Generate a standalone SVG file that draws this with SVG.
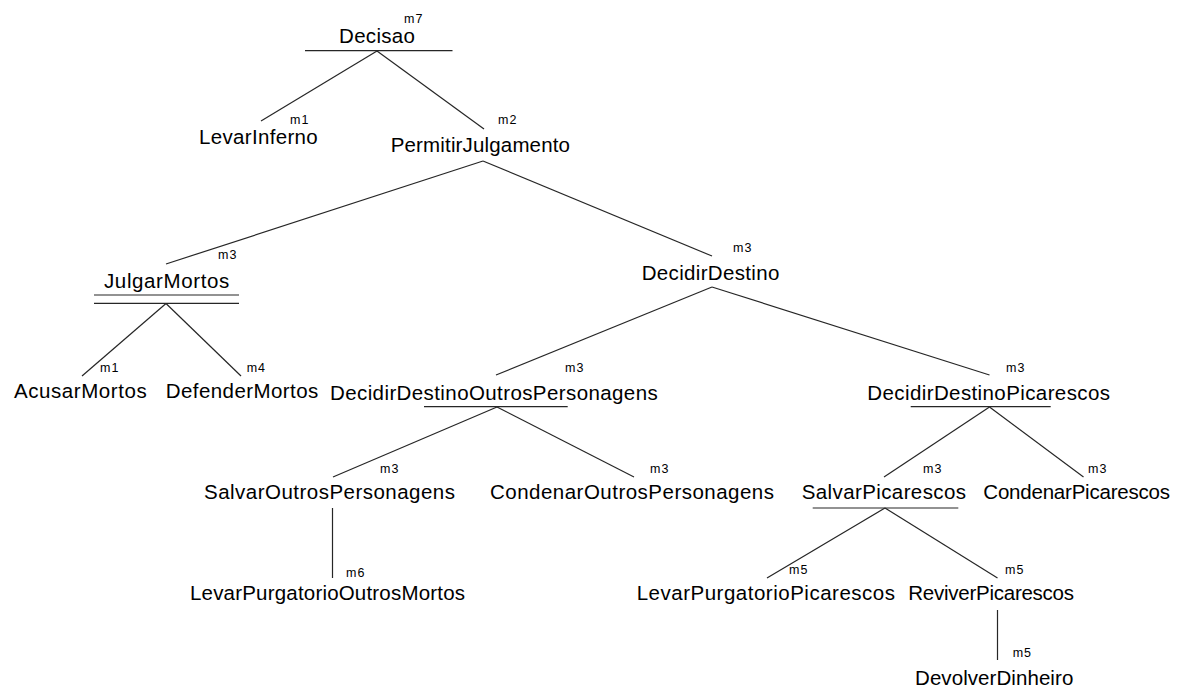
<svg xmlns="http://www.w3.org/2000/svg" width="1191" height="689" viewBox="0 0 1191 689">
  <style>
    .bg { fill: #ffffff; }
    .name { font-family: "Liberation Sans", Arial, sans-serif; font-size: 20.5px; fill: #000000; }
    .tag { font-family: "Liberation Sans", Arial, sans-serif; font-size: 12.5px; letter-spacing: 1px; fill: #000000; }
    .edge { stroke: #262626; stroke-width: 1.2; fill: none; }
    .rule { stroke: #262626; stroke-width: 1.2; fill: none; }
  </style>
  <rect class="bg" x="0" y="0" width="1191" height="689"/>

  <!-- tree edges -->
  <g id="connectors">
    <line class="edge" x1="377" y1="51" x2="261" y2="121"/>
    <line class="edge" x1="377" y1="51" x2="484" y2="129"/>
    <line class="edge" x1="483" y1="161" x2="166" y2="264"/>
    <line class="edge" x1="483" y1="161" x2="712" y2="256"/>
    <line class="edge" x1="166" y1="303.5" x2="82" y2="376"/>
    <line class="edge" x1="166" y1="303.5" x2="241" y2="376"/>
    <line class="edge" x1="712" y1="287" x2="496" y2="375"/>
    <line class="edge" x1="712" y1="287" x2="989.5" y2="375"/>
    <line class="edge" x1="497" y1="407" x2="333" y2="477"/>
    <line class="edge" x1="497" y1="407" x2="634" y2="477"/>
    <line class="edge" x1="332.5" y1="508" x2="332.5" y2="578"/>
    <line class="edge" x1="989.5" y1="407" x2="884" y2="477"/>
    <line class="edge" x1="989.5" y1="407" x2="1083.5" y2="477"/>
    <line class="edge" x1="885" y1="508" x2="767" y2="578"/>
    <line class="edge" x1="885" y1="508" x2="997.5" y2="578"/>
    <line class="edge" x1="997.5" y1="610" x2="997.5" y2="660"/>
  </g>

  <g id="n-decisao">
    <text class="name" x="339" y="42.5" textLength="76" lengthAdjust="spacing">Decisao</text>
    <text class="tag" x="404" y="22.5">m7</text>
    <line class="rule" x1="305" y1="50.7" x2="452.5" y2="50.7"/>
  </g>

  <g id="n-levarinferno">
    <text class="name" x="199" y="144" textLength="118.7" lengthAdjust="spacing">LevarInferno</text>
    <text class="tag" x="290" y="123.5">m1</text>
  </g>

  <g id="n-permitirjulgamento">
    <text class="name" x="390.7" y="151.7" textLength="179.3" lengthAdjust="spacing">PermitirJulgamento</text>
    <text class="tag" x="498" y="124">m2</text>
  </g>

  <g id="n-julgarmortos">
    <text class="name" x="104" y="288.3" textLength="125.3" lengthAdjust="spacing">JulgarMortos</text>
    <text class="tag" x="218" y="259">m3</text>
    <line class="rule" x1="94" y1="295" x2="239" y2="295"/>
    <line class="rule" x1="94" y1="303.3" x2="239" y2="303.3"/>
  </g>

  <g id="n-decidirdestino">
    <text class="name" x="641.7" y="280" textLength="137.6" lengthAdjust="spacing">DecidirDestino</text>
    <text class="tag" x="733" y="251.5">m3</text>
  </g>

  <g id="n-acusarmortos">
    <text class="name" x="14" y="398.3" textLength="132.7" lengthAdjust="spacing">AcusarMortos</text>
    <text class="tag" x="100" y="372">m1</text>
  </g>

  <g id="n-defendermortos">
    <text class="name" x="165.7" y="398.3" textLength="152.6" lengthAdjust="spacing">DefenderMortos</text>
    <text class="tag" x="246.7" y="372">m4</text>
  </g>

  <g id="n-decidirdestinooutrospersonagens">
    <text class="name" x="330" y="400" textLength="327.7" lengthAdjust="spacing">DecidirDestinoOutrosPersonagens</text>
    <text class="tag" x="565" y="372">m3</text>
    <line class="rule" x1="424" y1="406.7" x2="567.7" y2="406.7"/>
  </g>

  <g id="n-decidirdestinopicarescos">
    <text class="name" x="867.3" y="400" textLength="242.7" lengthAdjust="spacing">DecidirDestinoPicarescos</text>
    <text class="tag" x="1006" y="372">m3</text>
    <line class="rule" x1="910.7" y1="406.7" x2="1050.7" y2="406.7"/>
  </g>

  <g id="n-salvaroutrospersonagens">
    <text class="name" x="204" y="499" textLength="251" lengthAdjust="spacing">SalvarOutrosPersonagens</text>
    <text class="tag" x="380" y="473">m3</text>
  </g>

  <g id="n-condenaroutrospersonagens">
    <text class="name" x="490" y="499" textLength="284" lengthAdjust="spacing">CondenarOutrosPersonagens</text>
    <text class="tag" x="650" y="473">m3</text>
  </g>

  <g id="n-salvarpicarescos">
    <text class="name" x="801.7" y="499" textLength="164.3" lengthAdjust="spacing">SalvarPicarescos</text>
    <text class="tag" x="923" y="473">m3</text>
    <line class="rule" x1="812.7" y1="508" x2="958.3" y2="508"/>
  </g>

  <g id="n-condenarpicarescos">
    <text class="name" x="983.3" y="499" textLength="186.7" lengthAdjust="spacing">CondenarPicarescos</text>
    <text class="tag" x="1088" y="473">m3</text>
  </g>

  <g id="n-levarpurgatoriooutrosmortos">
    <text class="name" x="190" y="600" textLength="275" lengthAdjust="spacing">LevarPurgatorioOutrosMortos</text>
    <text class="tag" x="346" y="577">m6</text>
  </g>

  <g id="n-levarpurgatoriopicarescos">
    <text class="name" x="636.7" y="600" textLength="258.3" lengthAdjust="spacing">LevarPurgatorioPicarescos</text>
    <text class="tag" x="789" y="573.5">m5</text>
  </g>

  <g id="n-reviverpicarescos">
    <text class="name" x="908.3" y="600" textLength="165.7" lengthAdjust="spacing">ReviverPicarescos</text>
    <text class="tag" x="1005" y="573.5">m5</text>
  </g>

  <g id="n-devolverdinheiro">
    <text class="name" x="915" y="685" textLength="158.3" lengthAdjust="spacing">DevolverDinheiro</text>
    <text class="tag" x="1012.7" y="657">m5</text>
  </g>
</svg>
